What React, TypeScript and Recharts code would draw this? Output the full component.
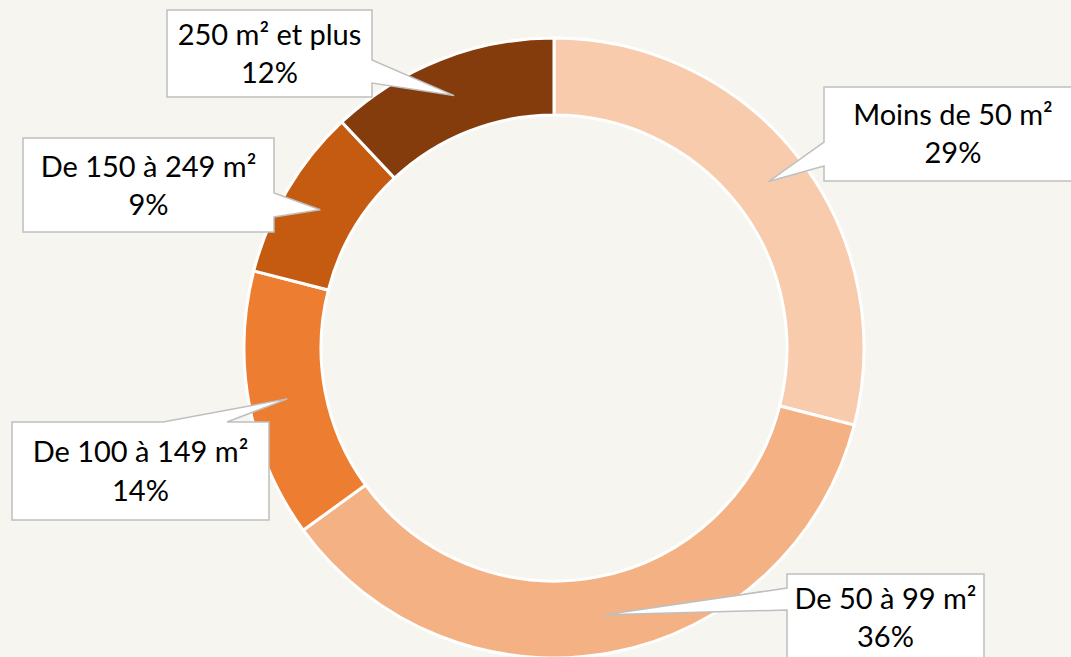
import React from "react";
import { PieChart, Pie, Cell } from "recharts";

const categories = ["Moins de 50 m²", "De 50 à 99 m²", "De 100 à 149 m²", "De 150 à 249 m²", "250 m² et plus"];
const shares = [29, 36, 14, 9, 12];
const colors = ["#F8CBAD", "#F4B183", "#ED7D31", "#C55A11", "#843C0C"];

const data = categories.map((name, i) => ({ name, value: shares[i] }));

// Callout box layout (label placement only)
type Side = "left" | "right" | "top";
const callouts: { x: number; y: number; w: number; h: number; side: Side; b0: number; b1: number; t1: number; t2: number }[] = [
  { x: 824, y: 87, w: 258, h: 94, side: "left", b0: 142, b1: 166, t1: 38, t2: 76 },
  { x: 787, y: 574, w: 197, h: 100, side: "left", b0: 588, b1: 610, t1: 35, t2: 73 },
  { x: 12, y: 422, w: 257, h: 98, side: "top", b0: 163, b1: 227, t1: 40, t2: 79 },
  { x: 23, y: 138, w: 251, h: 94, side: "right", b0: 193, b1: 217, t1: 39, t2: 77 },
  { x: 167, y: 10, w: 205, h: 87, side: "right", b0: 60, b1: 83, t1: 35, t2: 73 },
];

const RAD = Math.PI / 180;
const FONT = "Lato, 'Open Sans', sans-serif";

const renderLabel = (props: any) => {
  const { cx, cy, midAngle, innerRadius, outerRadius, index } = props;
  const r = (innerRadius + outerRadius) / 2;
  const tx = cx + Math.cos(-midAngle * RAD) * r;
  const ty = cy + Math.sin(-midAngle * RAD) * r;
  const c = callouts[index];
  const { x, y, w, h, side, b0, b1 } = c;
  const pts: [number, number][] = [];
  pts.push([x, y]);
  if (side === "top") { pts.push([b0, y], [tx, ty], [b1, y]); }
  pts.push([x + w, y]);
  if (side === "right") { pts.push([x + w, b0], [tx, ty], [x + w, b1]); }
  pts.push([x + w, y + h]);
  pts.push([x, y + h]);
  if (side === "left") { pts.push([x, b1], [tx, ty], [x, b0]); }
  const d = "M" + pts.map((p) => p[0] + "," + p[1]).join("L") + "Z";
  const mx = x + w / 2;
  return (
    <g key={"callout-" + index}>
      <path d={d} fill="#FFFFFF" stroke="#BFBFBF" strokeWidth={1.5} strokeLinejoin="miter" />
      <text x={mx} y={y + c.t1} textAnchor="middle" fontFamily={FONT} fontSize={29} fill="#000">
        {categories[index]}
      </text>
      <text x={mx} y={y + c.t2} textAnchor="middle" fontFamily={FONT} fontSize={29} fill="#000">
        {shares[index] + "%"}
      </text>
    </g>
  );
};

export default function App() {
  return (
    <div style={{ position: "absolute", left: 0, top: 0, width: 1071, height: 657, background: "#F6F5EF", overflow: "hidden" }}>
      <PieChart width={1071} height={657} margin={{ top: 0, right: 0, bottom: 0, left: 0 }}>
        <Pie
          data={data}
          dataKey="value"
          nameKey="name"
          cx={554}
          cy={348}
          innerRadius={233}
          outerRadius={310}
          startAngle={90}
          endAngle={-270}
          stroke="#FFFFFF"
          strokeWidth={3}
          label={renderLabel}
          labelLine={false}
          isAnimationActive={false}
        >
          {data.map((d, i) => (
            <Cell key={d.name} fill={colors[i]} />
          ))}
        </Pie>
      </PieChart>
    </div>
  );
}
